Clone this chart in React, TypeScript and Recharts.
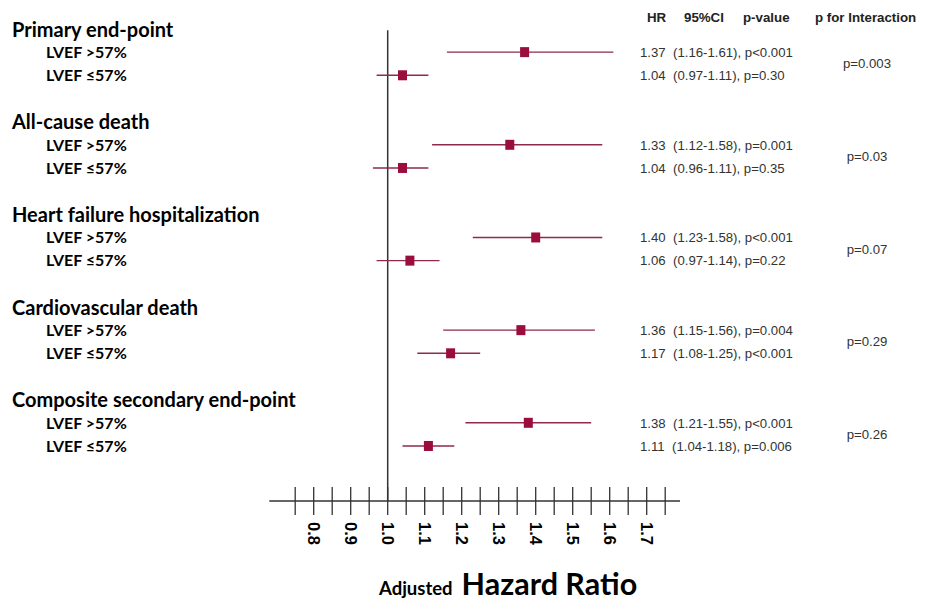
import React from 'react';
import { ScatterChart, Scatter, XAxis, YAxis, ErrorBar, ReferenceLine } from 'recharts';

const groups = [
  'Primary end-point',
  'All-cause death',
  'Heart failure hospitalization',
  'Cardiovascular death',
  'Composite secondary end-point',
];
const subgroups = ['LVEF >57%', 'LVEF \u226457%'];

const hr = [[1.37, 1.04], [1.33, 1.04], [1.40, 1.06], [1.36, 1.17], [1.38, 1.11]];
const ciLow = [[1.16, 0.97], [1.12, 0.96], [1.23, 0.97], [1.15, 1.08], [1.21, 1.04]];
const ciHigh = [[1.61, 1.11], [1.58, 1.11], [1.58, 1.14], [1.56, 1.25], [1.55, 1.18]];
const pValues = [
  ['p<0.001', 'p=0.30'],
  ['p=0.001', 'p=0.35'],
  ['p<0.001', 'p=0.22'],
  ['p=0.004', 'p<0.001'],
  ['p<0.001', 'p=0.006'],
];
const pInteraction = ['p=0.003', 'p=0.03', 'p=0.07', 'p=0.29', 'p=0.26'];

const headers = ['HR', '95%CI', 'p-value', 'p for Interaction'];
const xTicks = [0.75, 0.8, 0.85, 0.9, 0.95, 1.0, 1.05, 1.1, 1.15, 1.2, 1.25, 1.3, 1.35, 1.4, 1.45, 1.5, 1.55, 1.6, 1.65, 1.7, 1.75];
const xTickLabels = ['0.8', '0.9', '1.0', '1.1', '1.2', '1.3', '1.4', '1.5', '1.6', '1.7'];

const RED = '#9b0d3f';
const LINE = '#8e2a4a';
const AXIS = '#333';

// each group uses 4 rows: title, two subgroups, one blank
const points = groups.flatMap((g, gi) =>
  subgroups.map((s, si) => ({
    row: gi * 4 + si + 1,
    hr: hr[gi][si],
    err: [+(hr[gi][si] - ciLow[gi][si]).toFixed(2), +(ciHigh[gi][si] - hr[gi][si]).toFixed(2)],
  }))
);

const leftTicks = groups.flatMap((g, gi) => [gi * 4, gi * 4 + 1, gi * 4 + 2]);
const rightTicks = [-0.5, ...groups.flatMap((g, gi) => [gi * 4 + 1, gi * 4 + 1.5, gi * 4 + 2])];

const LeftTick = ({ y, payload }: any) => {
  const v = payload.value;
  const gi = Math.floor(v / 4);
  const k = v - gi * 4;
  if (k === 0) {
    return (
      <text x={12} y={y + 0.5} dy="0.36em" fontFamily="Lato" fontWeight={700} fontSize={20} fill="#000">
        {groups[gi]}
      </text>
    );
  }
  return (
    <text x={46} y={y} dy="0.36em" fontFamily="Lato" fontWeight={700} fontSize={16} fill="#000">
      {subgroups[k - 1]}
    </text>
  );
};

const RightTick = ({ y, payload }: any) => {
  const v = payload.value;
  if (v === -0.5) {
    const xs = [647, 684, 743, 815];
    return (
      <g>
        {headers.map((h, i) => (
          <text key={h} x={xs[i]} y={y} dy="0.36em" fontFamily="Liberation Sans" fontWeight={700} fontSize={13.3} fill="#222">
            {h}
          </text>
        ))}
      </g>
    );
  }
  const gi = Math.floor(v / 4);
  const k = v - gi * 4;
  if (k === 1.5) {
    return (
      <text x={867} y={y} dy="0.36em" textAnchor="middle" fontFamily="Liberation Sans" fontSize={13.2} fill="#333">
        {pInteraction[gi]}
      </text>
    );
  }
  const si = k - 1;
  const label = `${hr[gi][si].toFixed(2)}  (${ciLow[gi][si].toFixed(2)}-${ciHigh[gi][si].toFixed(2)}), ${pValues[gi][si]}`;
  return (
    <text x={640} y={y} dy="0.36em" fontFamily="Liberation Sans" fontSize={13.2} fill="#333" style={{ whiteSpace: 'pre' }}>
      {label}
    </text>
  );
};

const XTick = ({ x, y, payload }: any) => {
  const v = payload.value;
  const lbl = v.toFixed(1);
  const show = Math.abs(v * 10 - Math.round(v * 10)) < 1e-6 && xTickLabels.includes(lbl);
  return (
    <g>
      <line x1={x} x2={x} y1={y - 14} y2={y + 14} stroke={AXIS} strokeWidth={1.3} />
      {show && (
        <text
          x={x}
          y={y + 21}
          dy="0.36em"
          transform={`rotate(90, ${x}, ${y + 21})`}
          fontFamily="Liberation Sans"
          fontWeight={700}
          fontSize={16.5}
          fill="#000"
        >
          {lbl}
        </text>
      )}
    </g>
  );
};

const AxisTitle = ({ viewBox }: any) => {
  const bottom = viewBox.y + viewBox.height;
  return (
    <text x={379} y={bottom - 9} fontFamily="Lato" fontWeight={700} fill="#000">
      <tspan fontSize={18.5}>Adjusted</tspan>
      <tspan fontSize={30.5} dx={9}>Hazard Ratio</tspan>
    </text>
  );
};

const square = (props: any) => (
  <rect x={props.cx - 4.5} y={props.cy - 5} width={9} height={10} fill={RED} />
);

export default function App() {
  return (
    <div style={{ position: 'absolute', left: 0, top: 0, width: 925, height: 604, background: '#fff' }}>
      <ScatterChart width={925} height={604} margin={{ top: 0, right: 0, bottom: 0, left: 0 }}>
        <XAxis
          type="number"
          dataKey="hr"
          domain={[0.68, 1.79]}
          ticks={xTicks}
          interval={0}
          tickSize={0}
          tickMargin={0}
          tickLine={false}
          tick={<XTick />}
          axisLine={{ stroke: AXIS, strokeWidth: 1.5 }}
          height={103}
          label={<AxisTitle />}
          allowDataOverflow
        />
        <YAxis
          yAxisId="left"
          type="number"
          dataKey="row"
          reversed
          domain={[-1.25, 20.375]}
          ticks={leftTicks}
          interval={0}
          width={269.3}
          axisLine={false}
          tickLine={false}
          tick={<LeftTick />}
          allowDataOverflow
        />
        <YAxis
          yAxisId="right"
          orientation="right"
          type="number"
          dataKey="row"
          reversed
          domain={[-1.25, 20.375]}
          ticks={rightTicks}
          interval={0}
          width={245}
          axisLine={false}
          tickLine={false}
          tick={<RightTick />}
          allowDataOverflow
        />
        <ReferenceLine
          yAxisId="left"
          segment={[{ x: 1, y: 0.06 }, { x: 1, y: 20.375 }]}
          stroke={AXIS}
          strokeWidth={1.5}
        />
        <Scatter yAxisId="left" data={points} shape={square} isAnimationActive={false}>
          <ErrorBar dataKey="err" direction="x" width={0} stroke={LINE} strokeWidth={1.4} />
        </Scatter>
      </ScatterChart>
    </div>
  );
}
